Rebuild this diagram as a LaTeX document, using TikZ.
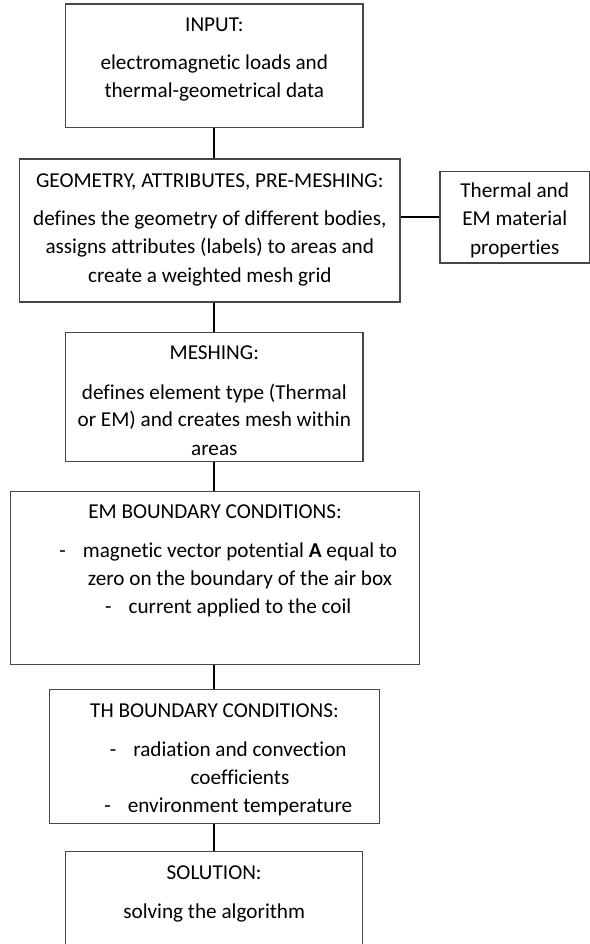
\documentclass[tikz,border=0pt]{standalone}
\usepackage{fontspec}
\setmainfont[Ligatures=NoCommon]{Carlito}
\usepackage{tikz}
\usetikzlibrary{calc,positioning}
\definecolor{GrisBorde}{RGB}{70,70,70}

\tikzset{
  caja/.style={draw=GrisBorde,line width=0.65pt,inner sep=0pt},
  linea/.style={line width=1pt,black},
  texto/.style={inner sep=0pt,anchor=base,font=\fontsize{10.6}{14}\selectfont},
  guion/.style={texto,anchor=base west},
}

\begin{document}
\begin{tikzpicture}[x=0.5pt,y=-0.5pt]
  \useasboundingbox (0,0) rectangle (590,944);
  \clip (0,0) rectangle (590,944);

  % cajas (medidas en px, 1px = 0.5pt)
  \node[caja,minimum width=148.75pt,minimum height=61.85pt] (input) at (214.3,65.9) {};
  \node[caja,minimum width=190.2pt,minimum height=71.5pt] (geom) at (209.8,230.5) {};
  \node[caja,minimum width=74.75pt,minimum height=45.65pt] (matl) at (514.7,217.4) {};
  \node[caja,minimum width=148.75pt,minimum height=64.3pt] (mesh) at (214.3,397) {};
  \node[caja,minimum width=204.5pt,minimum height=86.5pt] (embc) at (215,577.8) {};
  \node[caja,minimum width=165.25pt,minimum height=67pt] (thbc) at (214.5,756.7) {};
  \node[caja,minimum width=148.5pt,minimum height=60pt] (sol) at (214.2,911.7) {};

  % conectores
  \draw[linea] (input.south) -- (input.south |- geom.north);
  \draw[linea] (matl.west -| geom.east) -- (matl.west);
  \draw[linea] (input.south |- geom.south) -- (input.south |- mesh.north);
  \draw[linea] (mesh.south) -- (mesh.south |- embc.north);
  \draw[linea] (mesh.south |- embc.south) -- (mesh.south |- thbc.north);
  \draw[linea] (mesh.south |- thbc.south) -- (mesh.south |- sol.north);

  % INPUT
  \node[texto] (in0) at (214.3,31) {INPUT:};
  \node[texto] (in1) at (214.3,69) {electromagnetic loads and};
  \node[texto] (in2) at (214.3,97) {thermal-geometrical data};

  % geometria
  \node[texto] (ge0) at (209.8,187) {GEOMETRY, ATTRIBUTES, PRE-MESHING:};
  \node[texto] (ge1) at (209.8,225) {defines the geometry of different bodies,};
  \node[texto] (ge2) at (209.8,253) {assigns attributes (labels) to areas and};
  \node[texto] (ge3) at (209.8,282) {create a weighted mesh grid};

  % materiales
  \node[texto] (ma1) at (514.7,197) {Thermal and};
  \node[texto] (ma2) at (514.7,225) {EM material};
  \node[texto] (ma3) at (514.7,254) {properties};

  % MESHING
  \node[texto] (me0) at (214.3,359) {MESHING:};
  \node[texto] (me1) at (214.3,399) {defines element type (Thermal};
  \node[texto] (me2) at (214.3,426) {or EM) and creates mesh within};
  \node[texto] (me3) at (214.3,455) {areas};

  % EM
  \node[texto] (em0) at (215,518) {EM BOUNDARY CONDITIONS:};
  \node[texto] (em1) at (240,557) {magnetic vector potential \textbf{A} equal to};
  \node[texto] (em2) at (240,585) {zero on the boundary of the air box};
  \node[texto] (em3) at (240,613) {current applied to the coil};
  \node[guion] (emg1) at ([xshift=-11.75pt]em1.base west) {-};
  \node[guion] (emg3) at ([xshift=-11.75pt]em3.base west) {-};

  % TH
  \node[texto] (th0) at (214.5,717) {TH BOUNDARY CONDITIONS:};
  \node[texto] (th1) at (240,756) {radiation and convection};
  \node[texto] (th2) at (240,784) {coefficients};
  \node[texto] (th3) at (240,812) {environment temperature};
  \node[guion] (thg1) at ([xshift=-11.75pt]th1.base west) {-};
  \node[guion] (thg3) at ([xshift=-11.75pt]th3.base west) {-};

  % SOLUTION
  \node[texto] (so0) at (214.2,879) {SOLUTION:};
  \node[texto] (so1) at (214.2,918) {solving the algorithm};
\end{tikzpicture}
\end{document}
